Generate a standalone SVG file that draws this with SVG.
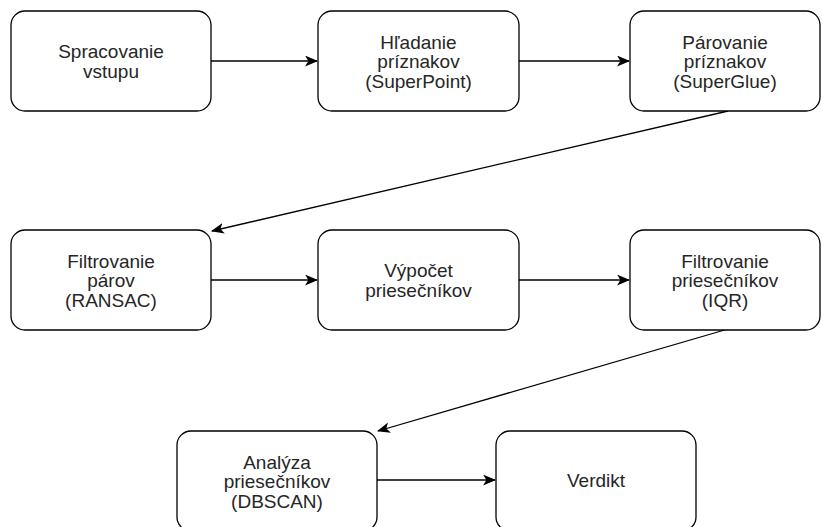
<svg xmlns="http://www.w3.org/2000/svg" width="822" height="527" viewBox="0 0 822 527">
<defs>
<style>
.box{fill:#ffffff;stroke:#000000;stroke-width:1.3}
.t{font-family:"Liberation Sans",Arial,sans-serif;font-size:19px;fill:#262626;text-anchor:middle}
.c{fill:none;stroke:#000000;stroke-width:1.3}
</style>
<marker id="arr" viewBox="0 0 12 10" refX="11" refY="5" markerWidth="13" markerHeight="11" markerUnits="userSpaceOnUse" orient="auto">
<path d="M0,0 L12,5 L0,10 L3,5 Z" fill="#000000"/>
</marker>
</defs>
<rect width="822" height="527" fill="#ffffff"/>
<g id="connectors">
<line class="c" x1="211" y1="61" x2="317" y2="61" marker-end="url(#arr)"/>
<line class="c" x1="519" y1="61" x2="629" y2="61" marker-end="url(#arr)"/>
<line class="c" x1="728" y1="111" x2="212" y2="231" marker-end="url(#arr)"/>
<line class="c" x1="211" y1="280" x2="317" y2="280" marker-end="url(#arr)"/>
<line class="c" x1="519" y1="280" x2="629" y2="280" marker-end="url(#arr)"/>
<line class="c" x1="728" y1="329" x2="378" y2="431" marker-end="url(#arr)"/>
<line class="c" x1="377" y1="480" x2="495" y2="480" marker-end="url(#arr)"/>
</g>
<g id="n1">
<rect class="box" x="11" y="11" width="200" height="100" rx="14"/>
<text class="t" x="111" y="58">Spracovanie</text>
<text class="t" x="111" y="77.5">vstupu</text>
</g>
<g id="n2">
<rect class="box" x="318" y="11" width="201" height="100" rx="14"/>
<text class="t" x="418.5" y="48.5">Hľadanie</text>
<text class="t" x="418.5" y="68">príznakov</text>
<text class="t" x="418.5" y="87.5">(SuperPoint)</text>
</g>
<g id="n3">
<rect class="box" x="630" y="11" width="190" height="100" rx="14"/>
<text class="t" x="725" y="48.5">Párovanie</text>
<text class="t" x="725" y="68">príznakov</text>
<text class="t" x="725" y="87.5">(SuperGlue)</text>
</g>
<g id="n4">
<rect class="box" x="11" y="230" width="200" height="100" rx="14"/>
<text class="t" x="111" y="267.5">Filtrovanie</text>
<text class="t" x="111" y="287">párov</text>
<text class="t" x="111" y="306.5">(RANSAC)</text>
</g>
<g id="n5">
<rect class="box" x="318" y="230" width="201" height="100" rx="14"/>
<text class="t" x="418.5" y="277">Výpočet</text>
<text class="t" x="418.5" y="296.5">priesečníkov</text>
</g>
<g id="n6">
<rect class="box" x="630" y="230" width="190" height="100" rx="14"/>
<text class="t" x="725" y="267.5">Filtrovanie</text>
<text class="t" x="725" y="287">priesečníkov</text>
<text class="t" x="725" y="306.5">(IQR)</text>
</g>
<g id="n7">
<rect class="box" x="177" y="431" width="200" height="100" rx="14"/>
<text class="t" x="277" y="468.5">Analýza</text>
<text class="t" x="277" y="488">priesečníkov</text>
<text class="t" x="277" y="507.5">(DBSCAN)</text>
</g>
<g id="n8">
<rect class="box" x="496" y="431" width="200" height="100" rx="14"/>
<text class="t" x="596" y="487">Verdikt</text>
</g>
</svg>
